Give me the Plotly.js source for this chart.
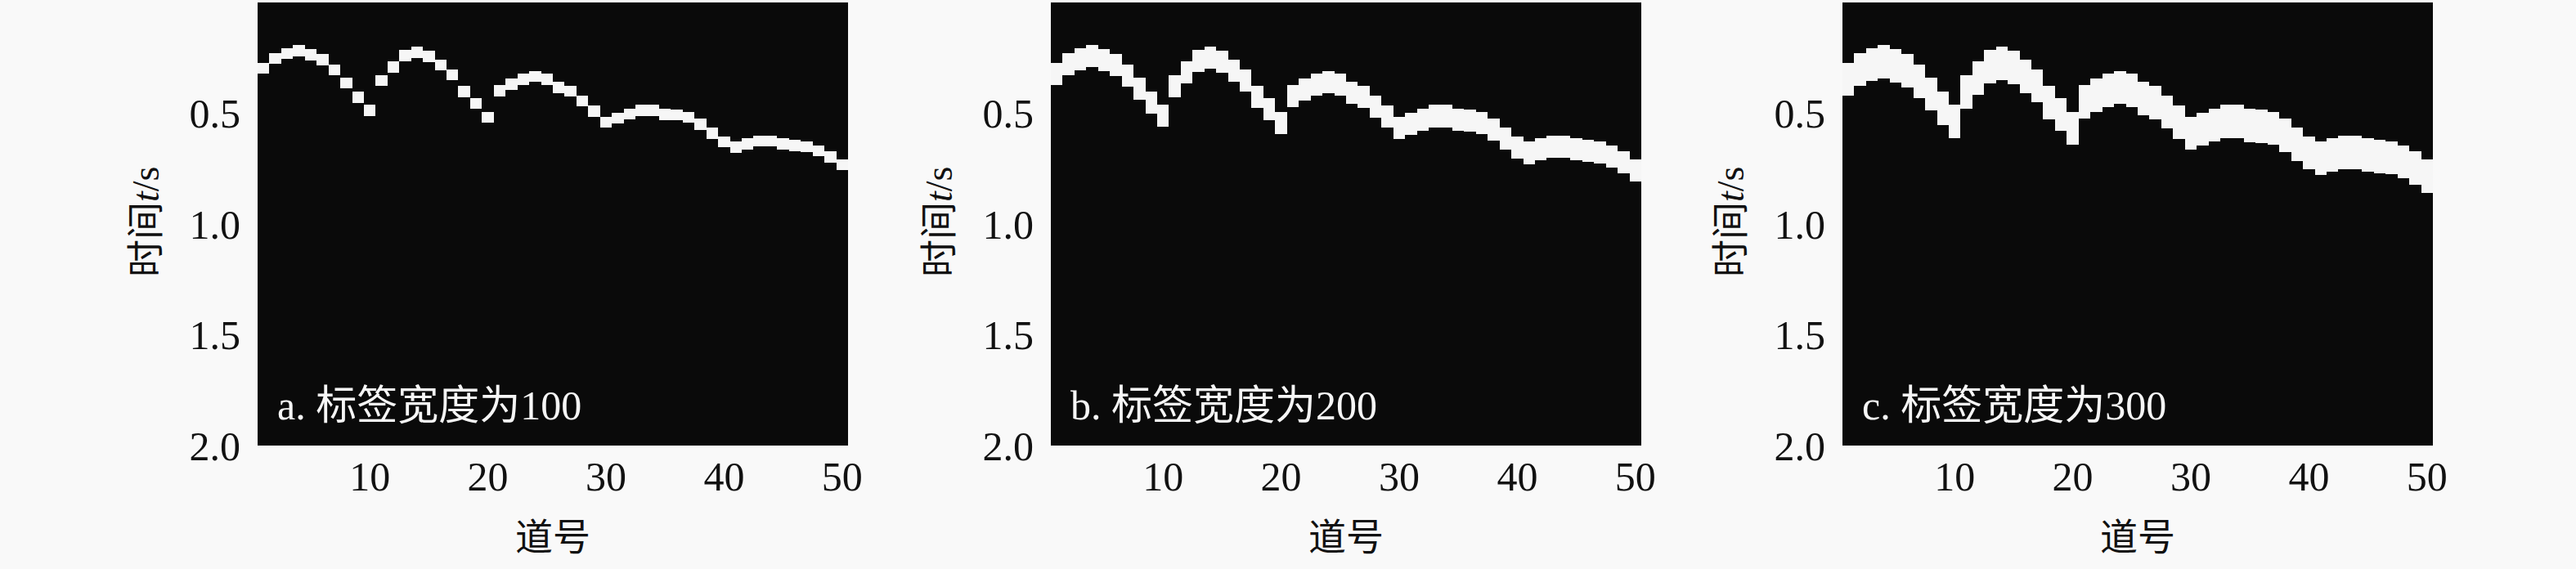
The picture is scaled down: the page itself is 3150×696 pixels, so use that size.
<!DOCTYPE html>
<html>
<head>
<meta charset="utf-8">
<script src="https://cdn.plot.ly/plotly-3.0.1.min.js"></script>
<style>
html,body{margin:0;padding:0;background:#f9f9f9;}
#chart{width:3150px;height:696px;}
</style>
</head>
<body>
<div id="chart"></div>
<script>
// ---- data ----
const traceNumbers = Array.from({length: 50}, (_, i) => i + 1);
// first-break time (s) of each trace
const firstBreak = [0.272,0.227,0.205,0.193,0.211,0.233,0.280,0.338,0.403,0.462,
                    0.328,0.266,0.215,0.200,0.218,0.258,0.301,0.377,0.431,0.493,
                    0.373,0.343,0.321,0.309,0.321,0.358,0.376,0.419,0.466,0.516,
                    0.497,0.479,0.463,0.463,0.481,0.483,0.493,0.524,0.565,0.604,
                    0.629,0.614,0.601,0.601,0.614,0.620,0.626,0.645,0.672,0.708];
const sampleInterval = 0.0005;          // s
const labelWidths = [100, 200, 300];    // samples
const panelLetters = ['a', 'b', 'c'];
const xTickVals = [10, 20, 30, 40, 50];
const yTickVals = [0.5, 1.0, 1.5, 2.0];
const yTickText = ['0.5', '1.0', '1.5', '2.0'];
const xTitle = '道号';
const yTitle = '时间<i>t</i>/s';

// ---- layout ----
const W = 3150, H = 696;
const panelLeft = [315, 1285, 2253];
const panelWidth = 722;
const plotTop = 3, plotBottom = 545;
const FONT = '"Liberation Serif", "Times New Roman", "Noto Sans CJK SC", serif';

const data = [];
const layout = {
  width: W, height: H,
  margin: {l: 0, r: 0, t: 0, b: 0},
  paper_bgcolor: '#f9f9f9',
  plot_bgcolor: '#0a0a0a',
  showlegend: false,
  font: {family: FONT, color: '#111', size: 50},
  annotations: [],
  bargap: 0
};

labelWidths.forEach((lw, k) => {
  const sfx = k === 0 ? '' : String(k + 1);
  const xa = 'x' + sfx, ya = 'y' + sfx;
  const widthSec = lw * sampleInterval;
  data.push({
    type: 'bar',
    x: traceNumbers,
    y: traceNumbers.map(() => widthSec),
    base: firstBreak,
    width: 1,
    xaxis: xa, yaxis: ya,
    marker: {color: '#f6f6f6', line: {width: 0}},
    hoverinfo: 'skip'
  });
  const d0 = panelLeft[k] / W, d1 = (panelLeft[k] + panelWidth) / W;
  layout['xaxis' + sfx] = {
    domain: [d0, d1],
    anchor: ya,
    range: [0.5, 50.5],
    tickvals: xTickVals,
    ticks: '',
    ticklabelstandoff: 4,
    showgrid: false, zeroline: false, showline: false,
    tickfont: {family: FONT, size: 50, color: '#111'},
    fixedrange: true
  };
  layout['yaxis' + sfx] = {
    domain: [1 - plotBottom / H, 1 - plotTop / H],
    anchor: xa,
    range: [2.0, 0],
    tickvals: yTickVals,
    ticktext: yTickText,
    ticks: '',
    ticklabelstandoff: 20,
    showgrid: false, zeroline: false, showline: false,
    tickfont: {family: FONT, size: 50, color: '#111'},
    fixedrange: true
  };
  // y title
  layout.annotations.push({
    xref: 'paper', yref: 'paper',
    x: (panelLeft[k] - 137) / W, y: 1 - 272 / H,
    xanchor: 'center', yanchor: 'middle',
    textangle: -90, showarrow: false,
    text: yTitle,
    font: {family: FONT, size: 46, color: '#111'}
  });
  // x title
  layout.annotations.push({
    xref: 'paper', yref: 'paper',
    x: (panelLeft[k] + panelWidth / 2) / W, y: 1 - 657 / H,
    xanchor: 'center', yanchor: 'middle',
    showarrow: false,
    text: xTitle,
    font: {family: FONT, size: 46, color: '#111'}
  });
  // panel label
  layout.annotations.push({
    xref: xa + ' domain', yref: ya + ' domain',
    x: 22 / panelWidth, y: (plotBottom - 496) / (plotBottom - plotTop),
    xanchor: 'left', yanchor: 'middle',
    showarrow: false,
    text: panelLetters[k] + '. 标签宽度为' + lw,
    font: {family: FONT, size: 50, color: '#f6f6f6'}
  });
});

Plotly.newPlot('chart', data, layout, {staticPlot: true, displayModeBar: false});
</script>
</body>
</html>
